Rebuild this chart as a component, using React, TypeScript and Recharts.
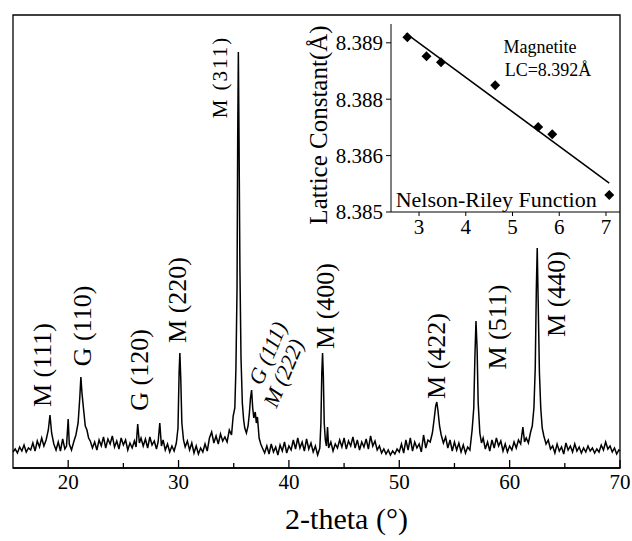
import React from 'react';
import {
  LineChart, Line, XAxis, YAxis, ReferenceArea, ReferenceDot,
  ScatterChart, Scatter,
} from 'recharts';

// XRD pattern: [2-theta, intensity (a.u.)]
const xrdPattern: [number, number][] = [
  [15.0, 16], [15.2, 19], [15.4, 15], [15.6, 21], [15.8, 17], [16.0, 23], [16.2, 16], [16.4, 20],
  [16.6, 18], [16.8, 25], [17.0, 17], [17.2, 27], [17.4, 21], [17.6, 30], [17.8, 22], [18.0, 28],
  [18.2, 38], [18.35, 53], [18.5, 35], [18.7, 24], [18.9, 18], [19.1, 26], [19.3, 17], [19.5, 29],
  [19.7, 19], [19.85, 22], [20.0, 49], [20.1, 24], [20.3, 18], [20.5, 26], [20.7, 33], [20.9, 45],
  [21.05, 70], [21.15, 91], [21.25, 75], [21.4, 58], [21.55, 42], [21.7, 38], [21.85, 30], [22.0, 27],
  [22.2, 20], [22.4, 26], [22.6, 18], [22.8, 28], [23.0, 22], [23.2, 31], [23.4, 20], [23.6, 29],
  [23.8, 24], [24.0, 32], [24.2, 21], [24.4, 27], [24.6, 19], [24.8, 30], [25.0, 23], [25.2, 28],
  [25.4, 18], [25.6, 25], [25.8, 20], [26.0, 27], [26.15, 21], [26.3, 44], [26.45, 25], [26.6, 30],
  [26.8, 22], [27.0, 29], [27.2, 20], [27.4, 31], [27.6, 23], [27.8, 27], [28.0, 19], [28.15, 26],
  [28.3, 45], [28.45, 22], [28.6, 28], [28.8, 18], [29.0, 24], [29.2, 16], [29.4, 22], [29.6, 17],
  [29.8, 25], [29.95, 40], [30.05, 95], [30.12, 115], [30.2, 90], [30.3, 45], [30.45, 28], [30.6, 21],
  [30.8, 27], [31.0, 18], [31.2, 25], [31.4, 15], [31.6, 22], [31.8, 14], [32.0, 20], [32.2, 16],
  [32.4, 24], [32.6, 17], [32.8, 30], [33.0, 36], [33.2, 25], [33.4, 32], [33.6, 24], [33.8, 34],
  [34.0, 27], [34.2, 31], [34.4, 26], [34.6, 38], [34.8, 33], [34.95, 52], [35.1, 60], [35.2, 100],
  [35.3, 180], [35.36, 330], [35.42, 416], [35.48, 330], [35.56, 200], [35.66, 110], [35.78, 65],
  [35.9, 48], [36.0, 40], [36.15, 35], [36.3, 42], [36.42, 55], [36.52, 70], [36.62, 78], [36.72, 60],
  [36.82, 50], [36.95, 56], [37.05, 45], [37.15, 51], [37.3, 30], [37.45, 24], [37.6, 20], [37.8, 15],
  [38.0, 22], [38.2, 14], [38.4, 24], [38.6, 16], [38.8, 21], [39.0, 13], [39.2, 23], [39.4, 17],
  [39.6, 26], [39.8, 15], [40.0, 22], [40.2, 18], [40.4, 28], [40.6, 19], [40.8, 30], [41.0, 20],
  [41.2, 26], [41.4, 17], [41.6, 29], [41.8, 19], [42.0, 25], [42.2, 16], [42.4, 22], [42.6, 13],
  [42.8, 20], [42.9, 45], [42.98, 95], [43.05, 115], [43.12, 92], [43.2, 45], [43.3, 28], [43.4, 22],
  [43.5, 41], [43.6, 20], [43.8, 26], [44.0, 17], [44.2, 24], [44.4, 20], [44.6, 28], [44.8, 21],
  [45.0, 30], [45.2, 19], [45.4, 27], [45.6, 22], [45.8, 31], [46.0, 20], [46.2, 28], [46.4, 18],
  [46.6, 26], [46.8, 21], [47.0, 29], [47.2, 19], [47.4, 32], [47.6, 22], [47.8, 27], [48.0, 18],
  [48.2, 22], [48.4, 15], [48.6, 19], [48.8, 14], [49.0, 18], [49.2, 13], [49.4, 17], [49.6, 14],
  [49.8, 19], [50.0, 16], [50.2, 24], [50.4, 15], [50.6, 28], [50.8, 18], [51.0, 30], [51.2, 17],
  [51.4, 26], [51.6, 20], [51.8, 24], [52.0, 16], [52.2, 33], [52.4, 20], [52.6, 28], [52.8, 26],
  [53.0, 35], [53.15, 48], [53.3, 62], [53.4, 66], [53.5, 58], [53.65, 42], [53.8, 33], [54.0, 25],
  [54.2, 31], [54.4, 20], [54.6, 28], [54.8, 17], [55.0, 26], [55.2, 18], [55.4, 25], [55.6, 16],
  [55.8, 23], [56.0, 15], [56.2, 21], [56.4, 18], [56.6, 38], [56.75, 60], [56.85, 110], [56.95, 147],
  [57.05, 120], [57.15, 65], [57.3, 35], [57.45, 25], [57.6, 30], [57.8, 19], [58.0, 26], [58.2, 17],
  [58.4, 28], [58.6, 20], [58.8, 30], [59.0, 22], [59.2, 27], [59.4, 17], [59.6, 24], [59.8, 16],
  [60.0, 22], [60.2, 18], [60.4, 26], [60.6, 20], [60.8, 28], [61.0, 24], [61.2, 41], [61.35, 26],
  [61.5, 30], [61.7, 25], [61.9, 36], [62.05, 42], [62.2, 60], [62.32, 100], [62.42, 180], [62.5, 220],
  [62.58, 170], [62.7, 95], [62.82, 60], [62.95, 40], [63.1, 32], [63.3, 24], [63.5, 28], [63.7, 19],
  [63.9, 22], [64.1, 15], [64.3, 24], [64.5, 17], [64.7, 21], [64.9, 14], [65.1, 25], [65.3, 18],
  [65.5, 22], [65.7, 16], [65.9, 24], [66.1, 17], [66.3, 21], [66.5, 15], [66.7, 20], [66.9, 16],
  [67.1, 22], [67.3, 17], [67.5, 20], [67.7, 15], [67.9, 19], [68.1, 16], [68.3, 23], [68.5, 18],
  [68.7, 26], [68.9, 19], [69.1, 22], [69.3, 16], [69.5, 20], [69.7, 14], [69.9, 18], [70.0, 17],
];

const xTicks = [20, 25, 30, 35, 40, 45, 50, 55, 60, 65, 70];

// peak labels, anchored at (2-theta, intensity) of their centre
const peakLabels = [
  { text: 'M (111)', x: 17.71, y: 103 },
  { text: 'G (110)', x: 21.33, y: 142 },
  { text: 'G (120)', x: 26.49, y: 98 },
  { text: 'M (220)', x: 29.93, y: 168 },
  { text: 'M (311)', x: 33.73, y: 391 },
  { text: 'M (400)', x: 43.33, y: 162 },
  { text: 'M (422)', x: 53.37, y: 112 },
  { text: 'M (511)', x: 58.89, y: 141 },
  { text: 'M (440)', x: 64.23, y: 174 },
];
const tiltedLabels = [
  { text: 'G (111)', x: 38.08, y: 115 },
  { text: 'M (222)', x: 39.52, y: 95 },
];

// inset: Nelson-Riley extrapolation
const nrFunction = [2.75, 3.16, 3.47, 4.63, 5.55, 5.85, 7.07];
const latticeConst = [8.38915, 8.38864, 8.38848, 8.38787, 8.38676, 8.38657, 8.38495];
const fitX = [2.72, 7.07];
const fitY = [8.38925, 8.38527];
const insetXTicks = [3, 4, 5, 6, 7];
const insetYTicks = [8.3845, 8.386, 8.3875, 8.389];
const insetYTickLabels = ['8.385', '8.386', '8.388', '8.389'];

const FONT = '"Liberation Serif", "Times New Roman", serif';

const data = xrdPattern.map(([x, y]) => ({ x, y }));
const points = nrFunction.map((x, i) => ({ x, y: latticeConst[i] }));
const fit = fitX.map((x, i) => ({ x, y: fitY[i] }));

const XTick = (props: any) => {
  const { x, y, payload } = props;
  const major = payload.value % 10 === 0;
  return (
    <g>
      <line x1={x} x2={x} y1={y} y2={y - (major ? 8 : 5)} stroke="#000" strokeWidth={1.3} />
      {major && (
        <text x={x} y={y + 21} textAnchor="middle" fontFamily={FONT} fontSize={21} fill="#000">
          {payload.value}
        </text>
      )}
    </g>
  );
};

const Diamond = (props: any) => {
  const { cx, cy } = props;
  const r = 5;
  return <polygon points={`${cx},${cy - r} ${cx + r},${cy} ${cx},${cy + r} ${cx - r},${cy}`} fill="#000" />;
};

const textShape = (text: string, size: number, angle = 0, italic = false, spacing = 0) => (props: any) => (
  <text
    x={props.cx}
    y={props.cy}
    textAnchor="middle"
    dominantBaseline="central"
    transform={angle ? `rotate(${angle} ${props.cx} ${props.cy})` : undefined}
    fontFamily={FONT}
    fontSize={size}
    fontStyle={italic ? 'italic' : 'normal'}
    letterSpacing={spacing}
    fill="#000"
  >
    {text}
  </text>
);

const App: React.FC = () => {
  return (
    <div style={{ position: 'absolute', left: 0, top: 0, width: 632, height: 541, background: '#fff' }}>
      <LineChart width={632} height={541} data={data} margin={{ top: 15, right: 12, left: 13, bottom: 0 }}>
        <XAxis
          dataKey="x"
          type="number"
          domain={[15, 70]}
          ticks={xTicks}
          tick={<XTick />}
          tickLine={false}
          tickSize={0}
          tickMargin={0}
          height={73}
          axisLine={{ stroke: '#000', strokeWidth: 1.3 }}
          interval={0}
          label={{
            content: (p: any) => (
              <text
                x={p.viewBox.x + p.viewBox.width / 2 + 30}
                y={p.viewBox.y + 61}
                textAnchor="middle"
                fontFamily={FONT}
                fontSize={30}
                fill="#000"
              >
                2-theta (°)
              </text>
            ),
          }}
        />
        <YAxis hide width={0} domain={[0, 453]} type="number" />
        <ReferenceArea x1={15} x2={70} y1={0} y2={453} fill="none" stroke="#000" strokeWidth={1.3} />
        <Line
          type="linear"
          dataKey="y"
          stroke="#000"
          strokeWidth={1.5}
          dot={false}
          isAnimationActive={false}
        />
        {peakLabels.map((l) => (
          <ReferenceDot
            key={l.text}
            x={l.x}
            y={l.y}
            r={0}
            shape={l.text === 'M (311)' ? textShape(l.text, 21, -90, false, 2) : textShape(l.text, 26, -90)}
          />
        ))}
        {tiltedLabels.map((l) => (
          <ReferenceDot key={l.text} x={l.x} y={l.y} r={0} shape={textShape(l.text, 22, -67, true)} />
        ))}
      </LineChart>

      <div style={{ position: 'absolute', left: 300, top: 0 }}>
        <ScatterChart width={320} height={250} margin={{ top: 24, right: 0, left: 21, bottom: 8 }}>
          <XAxis
            dataKey="x"
            type="number"
            domain={[2.4, 7.3]}
            ticks={insetXTicks}
            tickSize={4}
            tickMargin={3}
            height={30}
            axisLine={{ stroke: '#000' }}
            tickLine={{ stroke: '#000' }}
            tick={{ fontFamily: FONT, fontSize: 21, fill: '#000' }}
            interval={0}
          />
          <YAxis
            dataKey="y"
            type="number"
            domain={[8.3845, 8.3895]}
            ticks={insetYTicks}
            tickFormatter={(v: number) => insetYTickLabels[insetYTicks.indexOf(v)] ?? ''}
            tickSize={5}
            tickMargin={3}
            width={70}
            axisLine={{ stroke: '#000' }}
            tickLine={{ stroke: '#000' }}
            tick={{ fontFamily: FONT, fontSize: 21, fill: '#000' }}
            interval={0}
            label={{
              content: (p: any) => (
                <text
                  x={p.viewBox.x - 3}
                  y={p.viewBox.y + p.viewBox.height / 2 + 7}
                  textAnchor="middle"
                  dominantBaseline="central"
                  transform={`rotate(-90 ${p.viewBox.x - 3} ${p.viewBox.y + p.viewBox.height / 2 + 7})`}
                  fontFamily={FONT}
                  fontSize={25}
                  fill="#000"
                >
                  Lattice Constant(Å)
                </text>
              ),
            }}
          />
          <Scatter
            data={fit}
            line={{ stroke: '#000', strokeWidth: 1.5 }}
            shape={() => <g />}
            isAnimationActive={false}
          />
          <Scatter data={points} shape={<Diamond />} isAnimationActive={false} />
          <ReferenceDot x={5.59} y={8.38888} r={0} shape={textShape('Magnetite', 18)} />
          <ReferenceDot x={5.76} y={8.38827} r={0} shape={textShape('LC=8.392Å', 18)} />
          <ReferenceDot x={4.65} y={8.38482} r={0} shape={textShape('Nelson-Riley Function', 22)} />
        </ScatterChart>
      </div>
    </div>
  );
};

export default App;
